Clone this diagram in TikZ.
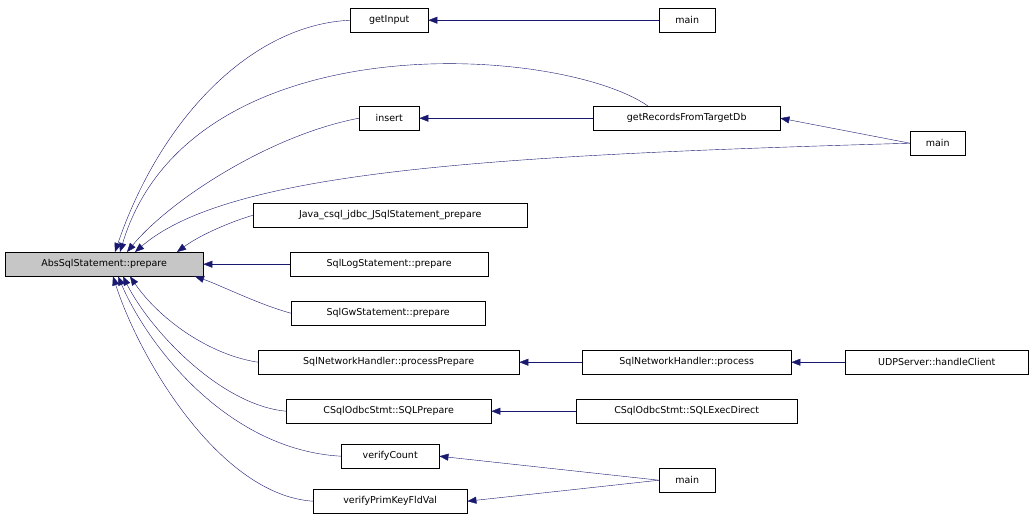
\documentclass[tikz,border=0pt]{standalone}
\usepackage{fontspec}
\setmainfont{DejaVu Sans}
\usetikzlibrary{arrows.meta,calc}
\begin{document}
\begin{tikzpicture}[x=1pt,y=-1pt,
  box/.style={draw=black,fill=white,inner sep=0pt,minimum height=24pt,font=\fontsize{9.5}{11}\selectfont,anchor=north west},
  edge/.style={draw=midnightblue,-{Triangle[length=9pt,width=7pt,fill=midnightblue]}}]
\definecolor{midnightblue}{HTML}{191970}
\useasboundingbox (0,0) rectangle (1035,520);
\node[box,fill=gray!45,minimum width=198pt] (abs) at (5,252) {AbsSqlStatement::prepare};
\node[box,minimum width=78pt] (gi) at (350,8) {getInput};
\node[box,minimum width=56pt] (m1) at (659,8) {main};
\node[box,minimum width=60pt] (ins) at (359,106) {insert};
\node[box,minimum width=187pt] (gr) at (593,106) {getRecordsFromTargetDb};
\node[box,minimum width=55pt] (m2) at (910,131) {main};
\node[box,minimum width=274pt] (java) at (253,203) {Java\_csql\_jdbc\_JSqlStatement\_prepare};
\node[box,minimum width=198pt] (log) at (290,252) {SqlLogStatement::prepare};
\node[box,minimum width=194pt] (gw) at (291,301) {SqlGwStatement::prepare};
\node[box,minimum width=261pt] (pp) at (258,350) {SqlNetworkHandler::processPrepare};
\node[box,minimum width=209pt] (pr) at (582,350) {SqlNetworkHandler::process};
\node[box,minimum width=183pt] (udp) at (845,350) {UDPServer::handleClient};
\node[box,minimum width=205pt] (sp) at (286,399) {CSqlOdbcStmt::SQLPrepare};
\node[box,minimum width=221pt] (se) at (576,399) {CSqlOdbcStmt::SQLExecDirect};
\node[box,minimum width=98pt] (vc) at (341,444) {verifyCount};
\node[box,minimum width=56pt] (m3) at (659,468) {main};
\node[box,minimum width=154pt] (vp) at (313,489) {verifyPrimKeyFldVal};
% edges into abs
\draw[edge] (gi.west) .. controls (250,25) and (160,120) .. ($(abs.north west)+(110,0)$);
\draw[edge] (gr.north west) ++(55,0) .. controls (560,45) and (190,20) .. ($(abs.north west)+(115,0)$);
\draw[edge] (ins.west) .. controls (270,135) and (170,200) .. ($(abs.north west)+(122,0)$);
\draw[edge] (m2.west) .. controls (500,155) and (230,170) .. ($(abs.north west)+(130,0)$);
\draw[edge] (java.west) .. controls (230,222) and (200,235) .. ($(abs.north west)+(172,0)$);
\draw[edge] (log.west) -- (abs.east);
\draw[edge] (gw.west) .. controls (260,305) and (220,285) .. ($(abs.south west)+(190,0)$);
\draw[edge] (pp.west) .. controls (210,355) and (160,320) .. ($(abs.south west)+(125,0)$);
\draw[edge] (sp.west) .. controls (220,405) and (150,330) .. ($(abs.south west)+(118,0)$);
\draw[edge] (vc.west) .. controls (230,450) and (150,350) .. ($(abs.south west)+(113,0)$);
\draw[edge] (vp.west) .. controls (220,495) and (140,360) .. ($(abs.south west)+(108,0)$);
% other edges
\draw[edge] (m1.west) -- (gi.east);
\draw[edge] (gr.west) -- (ins.east);
\draw[edge] (m2.west) -- (gr.east);
\draw[edge] (pr.west) -- (pp.east);
\draw[edge] (udp.west) -- (pr.east);
\draw[edge] (se.west) -- (sp.east);
\draw[edge] (m3.west) -- (vc.east);
\draw[edge] (m3.west) -- (vp.east);
\end{tikzpicture}
\end{document}
